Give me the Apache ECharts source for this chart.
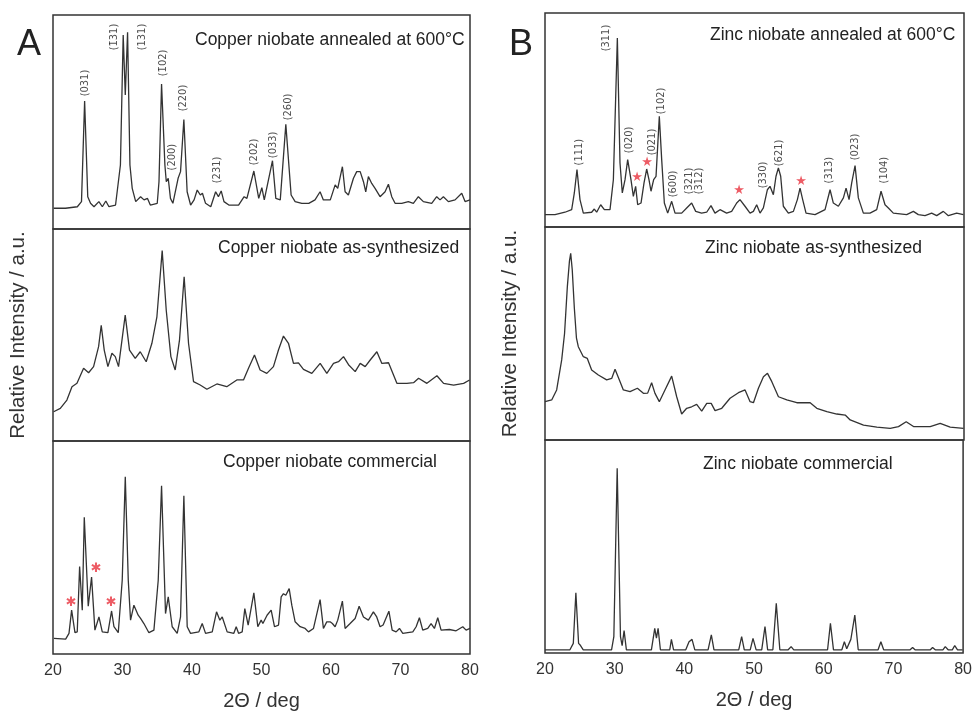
<!DOCTYPE html>
<html>
<head>
<meta charset="utf-8">
<title>XRD patterns - copper and zinc niobate</title>
<script src="https://cdn.jsdelivr.net/npm/echarts@6/dist/echarts.min.js"></script>
<style>
  html, body { margin: 0; padding: 0; background: #fff; }
  #chart { width: 975px; height: 712px; }
</style>
</head>
<body>
<div id="chart"></div>
<script>
const X_MIN = 20;
const X_MAX = 80;
const X_STEP = 10;
const FONT = "Liberation Sans, Arial, sans-serif";

// [2theta, relative intensity (0-100 inside each strip)]
const cuAnnealed = [[20.1,9.7],[21.8,9.7],[23.5,10.4],[24.1,12.8],[24.55,59.8],[25.0,15.1],[25.4,12.0],[25.9,10.4],[26.6,12.8],[27.1,10.4],[27.6,13.1],[28.05,10.4],[29.0,11.2],[29.7,29.9],[30.1,90.7],[30.4,62.6],[30.73,91.9],[31.07,29.9],[31.4,19.0],[31.9,12.8],[32.6,15.1],[33.1,13.6],[33.6,14.3],[34.0,11.2],[35.0,12.0],[35.25,22.1],[35.62,67.8],[36.1,29.9],[36.3,22.1],[36.58,23.7],[36.9,14.3],[37.25,12.0],[38.0,23.7],[38.35,26.8],[38.83,51.2],[39.3,17.4],[39.8,11.2],[40.3,13.6],[40.75,18.2],[41.2,15.9],[41.5,16.7],[41.95,12.0],[42.7,10.4],[43.4,17.4],[43.8,15.1],[44.2,17.8],[44.6,12.8],[45.3,11.2],[46.7,11.2],[47.5,15.1],[47.9,14.3],[48.9,27.1],[49.6,14.3],[50.05,19.3],[50.4,13.6],[51.58,31.9],[52.06,14.3],[52.7,13.6],[53.5,48.9],[54.26,15.9],[54.84,12.8],[55.8,12.0],[56.8,12.0],[57.7,13.6],[58.43,17.4],[58.9,13.6],[59.9,13.6],[60.6,20.6],[60.97,19.0],[61.64,29.1],[62.03,17.4],[62.5,15.9],[63.23,23.7],[63.7,26.8],[64.2,26.8],[64.67,22.1],[65.0,17.4],[65.38,24.5],[65.86,21.3],[66.34,19.0],[67.06,15.1],[67.78,17.4],[68.26,20.9],[68.74,15.1],[69.22,12.0],[70.18,12.0],[71.13,12.8],[71.85,12.0],[72.57,15.1],[73.29,12.8],[74.49,12.0],[75.21,15.1],[75.69,13.6],[76.17,15.1],[76.89,12.8],[77.85,13.6],[78.81,16.7],[79.29,12.8],[80.0,13.6]];

const cuSynth = [[20.09,13.8],[21.05,15.4],[22.0,19.3],[22.73,25.6],[23.45,27.2],[24.4,34.3],[25.12,32.2],[25.84,35.1],[26.56,44.5],[26.94,54.6],[27.37,42.9],[27.9,35.1],[28.48,41.4],[28.96,39.8],[29.43,35.1],[30.39,59.4],[31.01,42.9],[31.83,39.0],[32.55,42.1],[33.41,37.4],[34.23,46.1],[34.95,58.6],[35.71,89.8],[36.29,61.8],[36.96,39.8],[37.58,33.5],[38.2,47.6],[38.87,77.5],[39.5,46.1],[40.22,28.0],[41.18,26.4],[42.14,24.4],[43.58,26.9],[45.0,25.6],[46.45,28.8],[47.41,28.8],[48.13,34.3],[48.99,40.6],[49.8,33.5],[50.76,31.9],[51.72,35.1],[52.44,42.9],[53.16,49.5],[53.88,46.1],[54.6,36.6],[55.32,36.9],[56.04,33.8],[57.24,31.9],[58.44,36.6],[59.4,31.9],[60.36,36.6],[61.08,37.4],[61.8,39.8],[62.52,36.0],[63.48,32.7],[64.2,36.6],[64.92,35.1],[65.64,38.2],[66.6,42.1],[67.32,36.6],[68.28,36.9],[69.48,27.2],[70.92,27.2],[71.88,27.5],[72.6,29.6],[73.8,27.2],[75.24,30.8],[76.2,27.2],[77.64,26.4],[79.08,27.2],[79.94,28.8]];

const cuCommercial = [[20.14,7.3],[21.82,7.0],[22.3,9.7],[22.68,20.6],[23.16,10.0],[23.49,10.4],[23.83,41.1],[24.21,20.6],[24.5,64.2],[25.07,22.4],[25.55,36.1],[26.03,11.2],[26.61,17.4],[27.09,10.4],[27.9,10.0],[28.43,20.2],[28.77,12.8],[29.39,10.0],[29.96,34.6],[30.4,83.2],[30.83,34.6],[31.16,15.9],[31.64,22.9],[32.26,18.2],[32.6,16.7],[33.08,14.3],[33.8,10.0],[34.52,11.2],[35.14,34.6],[35.62,79.0],[36.19,19.0],[36.58,26.8],[37.15,12.8],[37.87,9.7],[38.35,17.4],[38.83,74.3],[39.31,12.8],[39.79,9.7],[40.99,10.4],[41.47,14.3],[41.95,9.7],[42.91,10.4],[43.53,19.8],[44.01,15.9],[44.35,17.4],[45.06,10.4],[46.02,9.7],[46.36,12.8],[46.7,9.7],[47.22,10.4],[47.6,21.3],[48.08,13.6],[48.9,28.7],[49.47,12.8],[49.95,15.9],[50.2,14.3],[50.8,18.2],[51.39,20.6],[51.87,12.8],[52.45,13.6],[52.83,26.8],[53.16,28.3],[53.5,27.6],[53.98,30.7],[54.36,22.9],[54.84,15.1],[55.56,12.8],[56.28,12.0],[56.76,10.4],[57.48,12.0],[58.43,25.5],[58.91,12.0],[59.39,15.1],[59.87,15.1],[60.2,14.3],[60.59,12.8],[60.97,15.9],[61.64,24.8],[62.03,12.0],[62.75,14.3],[63.47,16.7],[64.05,22.4],[64.67,17.4],[65.38,15.9],[66.1,19.8],[66.58,17.4],[67.06,12.8],[67.5,13.6],[68.33,20.1],[68.8,11.2],[69.37,10.4],[69.85,12.0],[70.33,9.7],[71.77,10.4],[72.25,12.8],[72.72,17.0],[73.2,11.2],[73.92,12.0],[74.4,14.3],[74.88,12.0],[75.36,17.0],[75.84,11.2],[77.04,11.5],[78.0,10.9],[78.96,12.8],[79.44,11.2],[80.0,12.0]];

const znAnnealed = [[20.0,5.8],[21.43,5.8],[22.86,6.9],[23.82,8.1],[24.2,15.9],[24.58,26.8],[25.01,12.8],[25.49,6.5],[26.68,6.9],[27.06,8.4],[27.4,6.9],[27.97,10.4],[28.5,8.1],[29.31,8.1],[29.79,22.1],[30.36,88.3],[30.74,29.9],[31.07,15.9],[31.46,22.1],[31.84,31.5],[32.31,22.1],[32.65,14.3],[32.98,19.0],[33.27,10.4],[33.75,11.2],[34.18,20.6],[34.56,27.1],[34.89,22.1],[35.18,16.7],[35.56,22.1],[35.9,23.7],[36.37,51.7],[36.71,31.5],[37.09,11.2],[37.57,6.5],[38.14,12.0],[38.62,6.5],[39.57,6.5],[40.29,8.9],[41.0,11.2],[41.58,7.3],[42.43,6.5],[43.15,6.9],[43.77,10.0],[44.34,6.5],[45.06,8.1],[46.01,6.5],[46.73,7.3],[47.45,11.2],[47.92,12.8],[48.64,9.7],[49.36,6.5],[49.84,7.3],[50.31,10.4],[50.79,6.5],[51.27,8.9],[51.84,17.4],[52.22,19.0],[52.7,15.1],[53.08,23.7],[53.42,27.6],[53.75,23.7],[54.13,9.7],[54.85,6.5],[55.57,7.3],[56.14,12.8],[56.52,18.2],[56.9,12.8],[57.38,6.5],[58.67,5.8],[60.1,8.1],[60.82,17.4],[61.29,11.2],[62.01,9.7],[62.73,13.6],[63.11,18.2],[63.54,12.8],[63.92,20.6],[64.4,28.7],[64.87,13.6],[65.59,6.5],[66.54,6.5],[67.5,8.1],[68.12,16.7],[68.69,10.4],[69.17,8.9],[69.88,6.5],[71.79,5.8],[72.75,7.3],[73.46,5.8],[74.42,5.3],[75.37,6.5],[76.09,5.3],[77.04,7.3],[77.76,5.3],[78.95,6.5],[79.91,5.8]];

const znSynth = [[20.0,18.0],[20.96,18.8],[21.67,23.5],[22.39,37.6],[22.8,50.0],[23.2,72.0],[23.5,84.0],[23.68,87.6],[23.9,80.0],[24.2,62.0],[24.5,48.0],[24.77,43.8],[25.49,39.1],[26.06,38.3],[26.68,32.9],[27.64,30.5],[28.83,28.2],[29.55,28.9],[30.03,33.2],[30.65,28.2],[31.22,23.5],[32.18,22.7],[33.23,24.3],[34.09,21.9],[34.7,22.0],[35.27,26.9],[35.75,21.9],[36.37,18.0],[37.18,23.5],[38.14,30.0],[38.86,20.3],[39.57,12.2],[40.29,14.9],[41.0,15.6],[41.72,16.7],[42.44,13.6],[43.16,17.2],[43.8,17.2],[44.35,13.8],[45.31,14.9],[46.5,19.6],[47.7,22.2],[48.65,23.5],[49.37,18.0],[49.85,17.5],[50.56,24.3],[51.28,29.7],[51.86,31.3],[52.48,27.4],[53.43,20.3],[54.63,18.8],[56.06,17.5],[57.97,17.5],[58.92,14.9],[60.36,13.3],[61.79,12.2],[62.99,11.7],[63.7,9.4],[65.61,7.0],[67.52,6.0],[69.43,5.5],[70.62,6.3],[71.72,8.6],[72.77,6.3],[75.16,6.3],[76.59,7.8],[78.02,6.0],[79.93,5.5]];

const znCommercial = [[20.0,1.5],[23.58,1.5],[24.06,4.5],[24.43,28.3],[24.82,4.5],[25.1,3.5],[25.49,1.5],[29.55,1.5],[29.88,7.7],[30.36,86.7],[30.83,7.7],[31.07,3.5],[31.35,10.5],[31.68,1.5],[35.27,1.5],[35.75,11.6],[35.99,7.0],[36.23,11.6],[36.56,1.5],[37.9,1.5],[38.14,6.4],[38.45,1.5],[40.2,1.5],[40.67,5.3],[41.1,6.4],[41.5,1.5],[43.4,1.5],[43.87,8.5],[44.25,1.5],[47.8,1.5],[48.22,7.7],[48.6,1.5],[49.45,1.5],[49.85,6.9],[50.3,1.5],[51.1,1.5],[51.57,12.4],[51.95,1.5],[52.7,1.5],[53.19,23.3],[53.7,1.5],[54.9,1.5],[55.32,3.0],[55.7,1.5],[60.55,1.5],[60.96,13.9],[61.4,1.5],[62.6,1.5],[62.96,5.3],[63.3,2.0],[63.89,6.4],[64.46,17.8],[64.95,1.5],[67.8,1.5],[68.2,5.3],[68.6,1.5],[72.4,1.5],[72.75,2.6],[73.1,1.5],[75.3,1.5],[75.62,2.6],[76.0,1.5],[77.1,1.5],[77.44,3.0],[77.85,1.5],[78.45,1.5],[78.8,3.5],[79.2,1.5],[79.93,1.5]];

// peak annotations
const cuHklLabels = ["(031)", "(1\u030431)", "(131)", "(1\u030402)", "(200)", "(220)", "(231)", "(202)", "(033)", "(260)"];
const cuHklAt = [[24.64,68.2],[28.81,89.7],[32.84,89.7],[35.86,77.6],[37.15,33.6],[38.74,61.2],[43.62,27.6],[48.94,36.0],[51.67,39.3],[53.83,57.0]];
const cuImpurityAt = [[22.63,24.3],[26.23,40.2],[28.38,24.3]];

const znHklLabels = ["(111)", "(311)", "(020)", "(021)", "(102)", "(600)", "(321)", "(312)", "(330)", "(621)", "(313)", "(023)", "(104)"];
const znHklAt = [[24.87,35.0],[28.74,88.3],[32.03,40.7],[35.32,39.7],[36.61,58.9],[38.33,20.1],[40.62,21.5],[42.05,21.5],[51.22,24.3],[53.51,34.6],[60.67,26.6],[64.39,37.4],[68.55,26.6]];
const znImpurityAt = [[33.17,22.9],[34.61,29.9],[47.78,16.8],[56.66,21.0]];

const sampleNames = [
  "Copper niobate annealed at 600°C",
  "Copper niobate as-synthesized",
  "Copper niobate commercial",
  "Zinc niobate annealed at 600°C",
  "Zinc niobate as-synthesized",
  "Zinc niobate commercial",
];
const traces = [cuAnnealed, cuSynth, cuCommercial, znAnnealed, znSynth, znCommercial];

// strip layout: 3 stacked strips per panel
const grids = [
  { left: 53, top: 15, width: 417, height: 214 },
  { left: 53, top: 229, width: 417, height: 212 },
  { left: 53, top: 441, width: 417, height: 214 },
  { left: 545, top: 13, width: 419, height: 214 },
  { left: 545, top: 227, width: 419, height: 213 },
  { left: 545, top: 440, width: 419, height: 213 },
];
const namePos = [[195, 40], [218, 248], [223, 462], [710, 35], [705, 248], [703, 464]];

function buildXAxis(i) {
  const bottom = i % 3 === 2;
  return {
    type: "value",
    gridIndex: i,
    min: X_MIN,
    max: X_MAX,
    interval: X_STEP,
    axisLine: { show: false },
    axisTick: { show: false },
    splitLine: { show: false },
    axisLabel: { show: bottom, fontSize: 16, color: "#333", margin: 9, fontFamily: FONT },
    name: bottom ? "2\u0398 / deg" : "",
    nameLocation: "middle",
    nameGap: 37,
    nameTextStyle: { fontSize: 20, color: "#333", fontFamily: FONT },
  };
}

function buildYAxis(i) {
  const middle = i % 3 === 1;
  return {
    type: "value",
    gridIndex: i,
    min: 0,
    max: 100,
    show: middle,
    axisLine: { show: false },
    axisTick: { show: false },
    axisLabel: { show: false },
    splitLine: { show: false },
    name: middle ? "Relative Intensity / a.u." : "",
    nameLocation: "middle",
    nameRotate: 90,
    nameGap: 24,
    nameTextStyle: { fontSize: 20.5, color: "#333", fontFamily: FONT },
  };
}

function traceSeries(data, i) {
  return {
    type: "line",
    xAxisIndex: i,
    yAxisIndex: i,
    data,
    showSymbol: false,
    silent: true,
    lineStyle: { color: "#333", width: 1.3 },
  };
}

function markSeries(names, coords, i, labelStyle) {
  return {
    type: "scatter",
    xAxisIndex: i,
    yAxisIndex: i,
    symbolSize: 1,
    silent: true,
    itemStyle: { color: "rgba(0,0,0,0)" },
    data: coords.map((c, k) => ({ name: names[k], value: c })),
    label: Object.assign({ show: true, position: "inside", formatter: "{b}" }, labelStyle),
  };
}

const hklStyle = { rotate: 90, fontSize: 11, color: "#222", fontFamily: "DejaVu Sans Condensed, DejaVu Sans, sans-serif" };
const starStyle = { fontSize: 13, color: "#e8333f", fontFamily: "DejaVu Sans" };

const series = traces.map((t, i) => traceSeries(t, i));
series.push(markSeries(cuHklLabels, cuHklAt, 0, hklStyle));
series.push(markSeries(znHklLabels, znHklAt, 3, hklStyle));
series.push(markSeries(cuImpurityAt.map(() => "\u2731"), cuImpurityAt, 2, starStyle));
series.push(markSeries(znImpurityAt.map(() => "\u2605"), znImpurityAt, 3, starStyle));

const graphic = sampleNames.map((name, i) => ({
  type: "text",
  x: namePos[i][0],
  y: namePos[i][1],
  style: { text: name, fontSize: 17.5, fontFamily: FONT, fill: "#222", align: "left", verticalAlign: "middle" },
}));
graphic.push({ type: "text", x: 29, y: 45, style: { text: "A", fontSize: 36, fontFamily: FONT, fill: "#222", align: "center", verticalAlign: "middle" } });
graphic.push({ type: "text", x: 521, y: 45, style: { text: "B", fontSize: 36, fontFamily: FONT, fill: "#222", align: "center", verticalAlign: "middle" } });

const chart = echarts.init(document.getElementById("chart"));
chart.setOption({
  animation: false,
  backgroundColor: "#fff",
  grid: grids.map((g) => Object.assign({ show: true, borderColor: "#333", borderWidth: 1.5, containLabel: false }, g)),
  xAxis: grids.map((g, i) => buildXAxis(i)),
  yAxis: grids.map((g, i) => buildYAxis(i)),
  series,
  graphic,
});
</script>
</body>
</html>
